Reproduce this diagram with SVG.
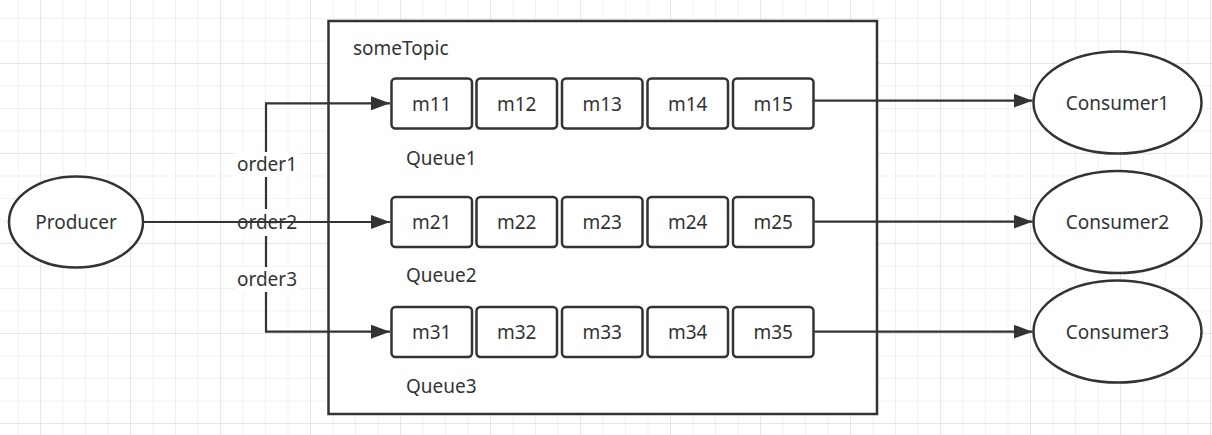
<svg xmlns="http://www.w3.org/2000/svg" width="1212" height="435" viewBox="0 0 1212 435">
<style>
  .t{font-family:"Noto Sans","Liberation Sans",sans-serif;font-size:19px;fill:#333333;}
  .c{text-anchor:middle;dominant-baseline:central;}
  .l{dominant-baseline:central;}
  .box{fill:#ffffff;stroke:#333333;stroke-width:2.5;}
  .ell{fill:#ffffff;stroke:#333333;stroke-width:2.5;}
  .edge{fill:none;stroke:#333333;stroke-width:2.2;}
  .lbg{fill:#ffffff;}
</style>
<defs>
  <pattern id="grid" patternUnits="userSpaceOnUse" x="40" y="63" width="90" height="90">
    <rect x="0" y="0" width="90" height="90" fill="#ffffff"/>
    <rect x="22.5" y="0" width="1" height="90" fill="#f1f1f1"/>
    <rect x="45" y="0" width="1" height="90" fill="#f1f1f1"/>
    <rect x="67.5" y="0" width="1" height="90" fill="#f1f1f1"/>
    <rect x="0" y="22.5" width="90" height="1" fill="#f1f1f1"/>
    <rect x="0" y="45" width="90" height="1" fill="#f1f1f1"/>
    <rect x="0" y="67.5" width="90" height="1" fill="#f1f1f1"/>
    <rect x="0" y="0" width="1" height="90" fill="#e6e6e6"/>
    <rect x="0" y="0" width="90" height="1" fill="#e6e6e6"/>
  </pattern>
  <marker id="arr" markerUnits="userSpaceOnUse" markerWidth="20" markerHeight="14" refX="19" refY="7" orient="auto">
    <path d="M0,0 L19,7 L0,14 Z" fill="#333333"/>
  </marker>
</defs>
<rect x="0" y="0" width="1212" height="435" fill="url(#grid)"/>

<g id="someTopic">
  <rect x="328.5" y="21" width="548.5" height="393" fill="#ffffff" stroke="#333333" stroke-width="2.5"/>
  <text class="t l" x="353" y="48">someTopic</text>
</g>

<g id="producer">
  <ellipse class="ell" cx="76" cy="222" rx="67" ry="45.5"/>
  <text class="t c" x="76" y="222">Producer</text>
</g>

<g id="queue1">
  <text class="t l" x="406" y="158">Queue1</text>
</g>
<g id="queue2">
  <text class="t l" x="406" y="275">Queue2</text>
</g>
<g id="queue3">
  <text class="t l" x="406" y="386">Queue3</text>
</g>

<g id="m11"><rect class="box" x="391.5" y="78.5" width="80.5" height="50" rx="4"/><text class="t c" x="431.7" y="103.5">m11</text></g>
<g id="m12"><rect class="box" x="476.5" y="78.5" width="80.5" height="50" rx="4"/><text class="t c" x="516.7" y="103.5">m12</text></g>
<g id="m13"><rect class="box" x="562" y="78.5" width="80.5" height="50" rx="4"/><text class="t c" x="602.2" y="103.5">m13</text></g>
<g id="m14"><rect class="box" x="647.5" y="78.5" width="80.5" height="50" rx="4"/><text class="t c" x="687.7" y="103.5">m14</text></g>
<g id="m15"><rect class="box" x="733" y="78.5" width="80.5" height="50" rx="4"/><text class="t c" x="773.2" y="103.5">m15</text></g>

<g id="m21"><rect class="box" x="391.5" y="197" width="80.5" height="50" rx="4"/><text class="t c" x="431.7" y="222">m21</text></g>
<g id="m22"><rect class="box" x="476.5" y="197" width="80.5" height="50" rx="4"/><text class="t c" x="516.7" y="222">m22</text></g>
<g id="m23"><rect class="box" x="562" y="197" width="80.5" height="50" rx="4"/><text class="t c" x="602.2" y="222">m23</text></g>
<g id="m24"><rect class="box" x="647.5" y="197" width="80.5" height="50" rx="4"/><text class="t c" x="687.7" y="222">m24</text></g>
<g id="m25"><rect class="box" x="733" y="197" width="80.5" height="50" rx="4"/><text class="t c" x="773.2" y="222">m25</text></g>

<g id="m31"><rect class="box" x="391.5" y="307" width="80.5" height="50" rx="4"/><text class="t c" x="431.7" y="332">m31</text></g>
<g id="m32"><rect class="box" x="476.5" y="307" width="80.5" height="50" rx="4"/><text class="t c" x="516.7" y="332">m32</text></g>
<g id="m33"><rect class="box" x="562" y="307" width="80.5" height="50" rx="4"/><text class="t c" x="602.2" y="332">m33</text></g>
<g id="m34"><rect class="box" x="647.5" y="307" width="80.5" height="50" rx="4"/><text class="t c" x="687.7" y="332">m34</text></g>
<g id="m35"><rect class="box" x="733" y="307" width="80.5" height="50" rx="4"/><text class="t c" x="773.2" y="332">m35</text></g>

<g id="consumer1">
  <ellipse class="ell" cx="1117.5" cy="102.5" rx="84" ry="51"/>
  <text class="t c" x="1117.5" y="102.5">Consumer1</text>
</g>
<g id="consumer2">
  <ellipse class="ell" cx="1117.5" cy="222" rx="84" ry="51"/>
  <text class="t c" x="1117.5" y="222">Consumer2</text>
</g>
<g id="consumer3">
  <ellipse class="ell" cx="1117.5" cy="331.5" rx="84" ry="51"/>
  <text class="t c" x="1117.5" y="331.5">Consumer3</text>
</g>

<g id="connectors">
  <path class="edge" d="M143,222 H266 V103.3 H390" marker-end="url(#arr)"/>
  <path class="edge" d="M143,222 H266 V331.7 H390" marker-end="url(#arr)"/>
  <rect class="lbg" x="235" y="152" width="65" height="25"/>
  <text class="t c" x="267" y="164">order1</text>
  <rect class="lbg" x="235" y="267" width="65" height="25"/>
  <text class="t c" x="267" y="279">order3</text>
  <rect class="lbg" x="235" y="209" width="65" height="27"/>
  <path class="edge" d="M143,222 H390" marker-end="url(#arr)"/>
  <text class="t c" x="267" y="222">order2</text>
  <path class="edge" d="M814.5,100.7 H1032.5" marker-end="url(#arr)"/>
  <path class="edge" d="M814.5,221.7 H1032.5" marker-end="url(#arr)"/>
  <path class="edge" d="M814.5,331.7 H1032.5" marker-end="url(#arr)"/>
</g>
</svg>
